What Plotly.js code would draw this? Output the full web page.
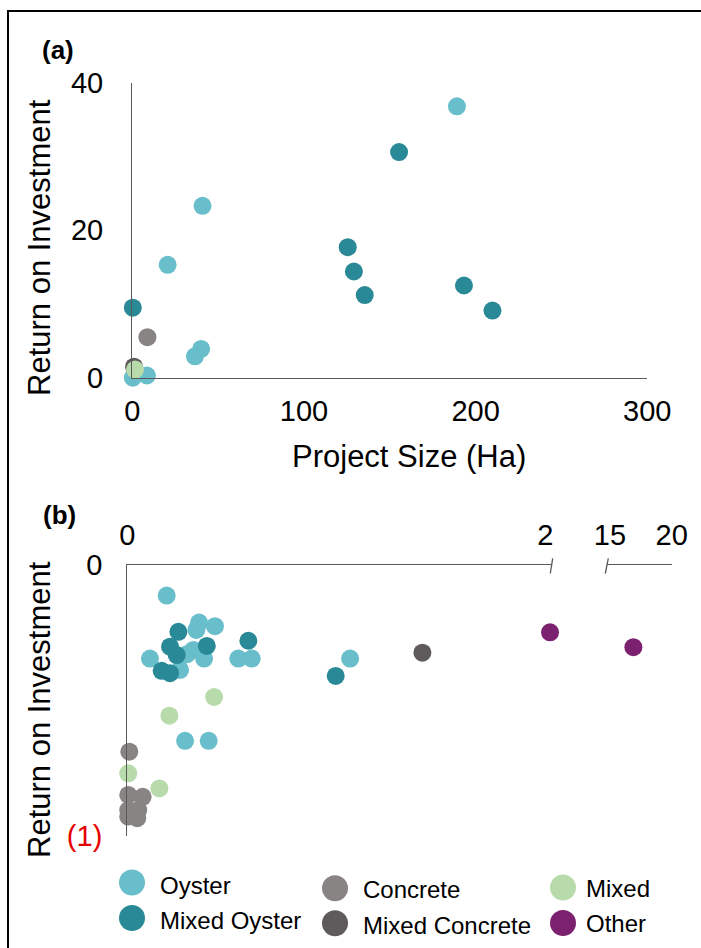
<!DOCTYPE html>
<html>
<head>
<meta charset="utf-8">
<script src="https://cdn.plot.ly/plotly-3.0.1.min.js"></script>
<style>html,body{margin:0;padding:0;background:#fff;}#chart{width:701px;height:948px;}</style>
</head>
<body>
<div id="chart"></div>
<script>
// ---------- data ----------
const categories = ["Oyster", "Mixed Oyster", "Concrete", "Mixed Concrete", "Mixed", "Other"];
const colors = ["#68BECA", "#2A8996", "#888483", "#5F5B5C", "#B8DBAC", "#7B2170"];

// Panel (a): Project Size (Ha) vs Return on Investment
const aOysterX = [189.1, 40.9, 20.6, 40.1, 36.5, 0.3, 2.0, 8.5];
const aOysterY = [36.8, 23.3, 15.3, 3.9, 2.9, 0.0, 0.6, 0.3];
const aMixedOysterX = [155.4, 125.5, 129.1, 135.4, 193.2, 209.8, 0.3];
const aMixedOysterY = [30.6, 17.7, 14.4, 11.2, 12.5, 9.1, 9.5];
const aConcreteX = [8.8];
const aConcreteY = [5.5];
const aMixedConcreteX = [1.0];
const aMixedConcreteY = [1.5];
const aMixedX = [1.6];
const aMixedY = [1.1];

// Panel (b): negative returns, broken size axis (0-2 | 15-20)
const bOysterX = [0.188, 0.343, 0.330, 0.419, 0.108, 0.316, 0.367, 0.284, 0.252, 0.531, 0.595, 1.066, 0.276, 0.389];
const bOysterY = [-0.113, -0.213, -0.240, -0.226, -0.346, -0.314, -0.346, -0.330, -0.388, -0.346, -0.346, -0.346, -0.650, -0.650];
const bMixedOysterX = [0.244, 0.204, 0.236, 0.380, 0.579, 0.164, 0.204, 0.997];
const bMixedOysterY = [-0.247, -0.302, -0.333, -0.299, -0.280, -0.391, -0.400, -0.410];
const bConcreteX = [0.009, 0.004, 0.073, 0.004, 0.052, 0.004, 0.047];
const bConcreteY = [-0.690, -0.850, -0.857, -0.906, -0.906, -0.930, -0.936];
const bMixedConcreteX = [1.412];
const bMixedConcreteY = [-0.324];
const bMixedX = [0.415, 0.201, 0.004, 0.153];
const bMixedY = [-0.488, -0.557, -0.770, -0.826];
const bOtherLowX = [2.023];
const bOtherLowY = [-0.249];
const bOtherHighX = [16.9];
const bOtherHighY = [-0.304];

const aTickVals = [0, 100, 200, 300];
const aYTickVals = [0, 20, 40];
const bLowTicks = [0, 2];
const bHighTicks = [15, 20];
const bYTickVals = [-1, 0];
const bYTickText = ["<span style='color:#E60000'>(1)</span>", "0"];

// ---------- layout helpers ----------
const W = 701, H = 948;
const X = p => p / W;
const Y = p => 1 - p / H;
const FONT = "Liberation Sans, Arial, Helvetica, sans-serif";
const AXC = "#595959";
const MS = 18;

function pts(x, y, ci, xa, ya) {
  return {
    type: "scatter", mode: "markers", x: x, y: y, name: categories[ci],
    xaxis: xa, yaxis: ya, cliponaxis: false, showlegend: false,
    marker: {color: colors[ci], size: MS, line: {width: 0}}
  };
}

const data = [
  pts(aOysterX, aOysterY, 0, "x", "y"),
  pts(aMixedOysterX, aMixedOysterY, 1, "x", "y"),
  pts(aConcreteX, aConcreteY, 2, "x", "y"),
  pts(aMixedConcreteX, aMixedConcreteY, 3, "x", "y"),
  pts(aMixedX, aMixedY, 4, "x", "y"),
  pts(bOysterX, bOysterY, 0, "x2", "y2"),
  pts(bMixedOysterX, bMixedOysterY, 1, "x2", "y2"),
  pts(bConcreteX, bConcreteY, 2, "x2", "y2"),
  pts(bMixedConcreteX, bMixedConcreteY, 3, "x2", "y2"),
  pts(bMixedX, bMixedY, 4, "x2", "y2"),
  pts(bOtherLowX, bOtherLowY, 5, "x2", "y2"),
  pts(bOtherHighX, bOtherHighY, 5, "x3", "y2")
];

const axBase = {
  showline: true, linecolor: AXC, linewidth: 1.3, showgrid: false, zeroline: false,
  ticks: "", tickmode: "array", fixedrange: true,
  tickfont: {family: FONT, size: 29, color: "#000"}
};

// legend positions (3 columns x 2 rows)
const legCircleX = [132, 132, 335, 335, 563, 563];
const legCircleY = [882.5, 918, 888.3, 923.3, 887.5, 923];
const legTextX = [158, 158, 361, 361, 583.5, 583.5];
const legTextY = [885, 920, 889.5, 925, 888.5, 923.5];
const legOrder = [0, 1, 2, 3, 4, 5];

const shapes = [
  // outer frame
  {type: "rect", xref: "paper", yref: "paper", x0: X(8), x1: X(712), y0: Y(11), y1: Y(960),
   line: {color: "#000", width: 2}, fillcolor: "rgba(0,0,0,0)", layer: "below"},
  // axis break marks
  {type: "line", xref: "paper", yref: "paper", x0: X(550.3), y0: Y(573.5), x1: X(552.7), y1: Y(558.3),
   line: {color: AXC, width: 1.3}},
  {type: "line", xref: "paper", yref: "paper", x0: X(605.3), y0: Y(573.5), x1: X(608.3), y1: Y(558.3),
   line: {color: AXC, width: 1.3}}
];
const annotations = [
  {text: "(a)", xref: "paper", yref: "paper", x: X(58), y: Y(50), showarrow: false,
   xanchor: "center", yanchor: "middle", font: {family: FONT, size: 26, color: "#000", weight: "bold"}},
  {text: "(b)", xref: "paper", yref: "paper", x: X(59), y: Y(515), showarrow: false,
   xanchor: "center", yanchor: "middle", font: {family: FONT, size: 26, color: "#000", weight: "bold"}},
  {text: "Project Size (Ha)", xref: "paper", yref: "paper", x: X(409), y: Y(456), showarrow: false,
   xanchor: "center", yanchor: "middle", font: {family: FONT, size: 31, color: "#000"}},
  {text: "Return on Investment", xref: "paper", yref: "paper", x: X(39), y: Y(248), showarrow: false,
   textangle: -90, xanchor: "center", yanchor: "middle", font: {family: FONT, size: 31, color: "#000"}},
  {text: "Return on Investment", xref: "paper", yref: "paper", x: X(39), y: Y(710), showarrow: false,
   textangle: -90, xanchor: "center", yanchor: "middle", font: {family: FONT, size: 31, color: "#000"}}
];
legOrder.forEach((ci, k) => {
  shapes.push({type: "circle", xref: "paper", yref: "paper", xsizemode: "pixel", ysizemode: "pixel",
    xanchor: X(legCircleX[k]), yanchor: Y(legCircleY[k]), x0: -13, x1: 13, y0: -13, y1: 13,
    fillcolor: colors[ci], line: {width: 0}});
  annotations.push({text: categories[ci], xref: "paper", yref: "paper", x: X(legTextX[k]), y: Y(legTextY[k]),
    showarrow: false, xanchor: "left", yanchor: "middle", font: {family: FONT, size: 24, color: "#000"}});
});

const layout = {
  width: W, height: H, margin: {l: 0, r: 0, t: 0, b: 0},
  paper_bgcolor: "#fff", plot_bgcolor: "rgba(0,0,0,0)",
  showlegend: false, hovermode: false,
  font: {family: FONT, color: "#000"},
  xaxis: Object.assign({}, axBase, {domain: [X(132.3), X(647.3)], range: [0, 300], anchor: "y",
    tickvals: aTickVals, ticklabelstandoff: 7}),
  yaxis: Object.assign({}, axBase, {domain: [Y(377.7), Y(82.7)], range: [0, 40], anchor: "x",
    tickvals: aYTickVals, ticklabelstandoff: 22}),
  xaxis2: Object.assign({}, axBase, {domain: [X(127.4), X(551.5)], range: [0, 2.03], anchor: "y2",
    side: "top", tickvals: bLowTicks, ticklabelstandoff: 7}),
  xaxis3: Object.assign({}, axBase, {domain: [X(606.8), X(671.7)], range: [14.75, 20], anchor: "y2",
    side: "top", tickvals: bHighTicks, ticklabelstandoff: 7}),
  yaxis2: Object.assign({}, axBase, {domain: [Y(835.5), Y(565)], range: [-1, 0], anchor: "x2",
    tickvals: bYTickVals, ticktext: bYTickText, ticklabelstandoff: 18}),
  shapes: shapes,
  annotations: annotations
};

Plotly.newPlot("chart", data, layout, {displayModeBar: false, staticPlot: true});
</script>
</body>
</html>
